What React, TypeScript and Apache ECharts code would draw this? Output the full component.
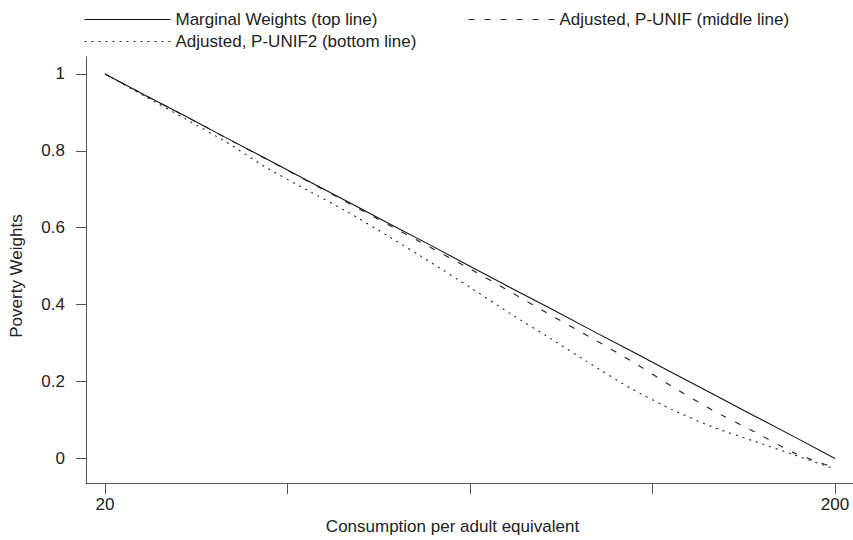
import React, { useEffect, useRef } from "react";
import * as echarts from "echarts";

const xValues = [20, 30, 40, 50, 60, 70, 80, 90, 100, 110, 120, 130, 140, 150, 160, 170, 180, 190, 200];
const marginalWeights = [1, 0.944, 0.889, 0.833, 0.778, 0.722, 0.667, 0.611, 0.556, 0.5, 0.444, 0.389, 0.333, 0.278, 0.222, 0.167, 0.111, 0.056, 0.0];
const adjustedPUnif = [1, 0.944, 0.889, 0.833, 0.777, 0.721, 0.664, 0.607, 0.55, 0.493, 0.433, 0.372, 0.313, 0.252, 0.186, 0.124, 0.07, 0.014, -0.025];
const adjustedPUnif2 = [1, 0.941, 0.882, 0.822, 0.755, 0.697, 0.64, 0.577, 0.512, 0.445, 0.376, 0.311, 0.244, 0.18, 0.126, 0.081, 0.045, 0.009, -0.028];

const seriesNames = [
  "Marginal Weights (top line)",
  "Adjusted, P-UNIF (middle line)",
  "Adjusted, P-UNIF2 (bottom line)",
];
const xTicks = [20, 65, 110, 155, 200];
const xTickLabels = [20, 200];
const yTicks = [0, 0.2, 0.4, 0.6, 0.8, 1];

const FONT = "'Liberation Sans', Arial, Helvetica, sans-serif";
const TEXT = "#222";
const AXIS = "#555";

export default function App() {
  const ref = useRef<HTMLDivElement>(null);
  useEffect(() => {
    if (!ref.current) return;
    const chart = echarts.init(ref.current, undefined, { renderer: "svg" });
    const pair = (ys: number[]) => xValues.map((x, i) => [x, ys[i]]);
    const legendBase = {
      padding: 0,
      itemWidth: 86,
      itemHeight: 14,
      itemStyle: { opacity: 0 },
      lineStyle: { width: 1 },
      textStyle: { fontSize: 17, color: TEXT, fontFamily: FONT },
    };
    chart.setOption({
      animation: false,
      backgroundColor: "#fff",
      textStyle: { fontFamily: FONT },
      legend: [
        { ...legendBase, data: [seriesNames[0]], left: 84, top: 11 },
        { ...legendBase, data: [seriesNames[1]], left: 468, top: 11 },
        { ...legendBase, data: [seriesNames[2]], left: 84, top: 33 },
      ],
      grid: { left: 86, right: 0, top: 57, bottom: 53, containLabel: false },
      xAxis: {
        type: "value",
        min: 15.32,
        max: 204.44,
        name: "Consumption per adult equivalent",
        nameLocation: "middle",
        nameGap: 35,
        nameTextStyle: { fontSize: 17, color: TEXT, fontFamily: FONT, padding: [0, 34, 0, 0] },
        axisLine: { show: true, onZero: false, lineStyle: { color: AXIS, width: 1 } },
        axisTick: { show: true, length: 11, customValues: xTicks, lineStyle: { color: AXIS } },
        axisLabel: { customValues: xTickLabels, margin: 13, fontSize: 17, color: TEXT, fontFamily: FONT },
        splitLine: { show: false },
      },
      yAxis: {
        type: "value",
        min: -0.064,
        max: 1.044,
        name: "Poverty Weights",
        nameLocation: "middle",
        nameRotate: 90,
        nameGap: 61,
        nameTextStyle: { fontSize: 17, color: TEXT, fontFamily: FONT, padding: [0, 0, 0, -12] },
        axisLine: { show: true, onZero: false, lineStyle: { color: AXIS, width: 1 } },
        axisTick: { show: true, length: 10, customValues: yTicks, lineStyle: { color: AXIS } },
        axisLabel: {
          customValues: yTicks,
          margin: 21,
          fontSize: 17,
          color: TEXT,
          fontFamily: FONT,
          formatter: (v: number) => String(Math.round(v * 10) / 10),
        },
        splitLine: { show: false },
      },
      series: [
        {
          name: seriesNames[0],
          type: "line",
          data: pair(marginalWeights),
          symbol: "none",
          lineStyle: { color: "#111", width: 1.1, type: "solid" },
          itemStyle: { color: "#111" },
        },
        {
          name: seriesNames[1],
          type: "line",
          data: pair(adjustedPUnif),
          symbol: "none",
          smooth: 0.2,
          lineStyle: { color: "#222", width: 1.1, type: [6, 10] },
          itemStyle: { color: "#222" },
        },
        {
          name: seriesNames[2],
          type: "line",
          data: pair(adjustedPUnif2),
          symbol: "none",
          smooth: 0.2,
          lineStyle: { color: "#222", width: 1.1, type: [2, 5] },
          itemStyle: { color: "#222" },
        },
      ],
    });
    return () => chart.dispose();
  }, []);
  return <div ref={ref} style={{ width: 853, height: 540, position: "absolute", left: 0, top: 0 }} />;
}
